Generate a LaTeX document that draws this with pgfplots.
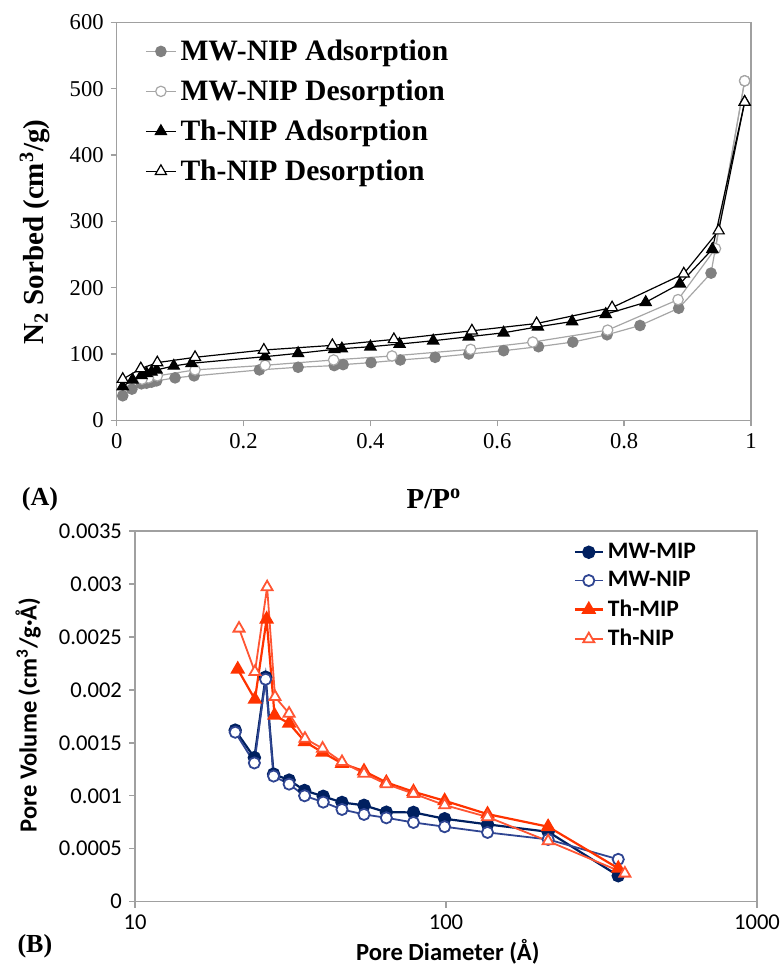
\documentclass[border=0pt]{standalone}
\usepackage{pgfplots}
\pgfplotsset{compat=1.18}
\usepackage{fontspec}
\setmainfont{Liberation Serif}
\newfontfamily\timesf{Liberation Serif}
\newfontfamily\calibri{Carlito}
\definecolor{gA}{HTML}{808080}
\definecolor{gD}{HTML}{A6A6A6}
\definecolor{axgray}{HTML}{A0A0A0}
\definecolor{navyA}{HTML}{002060}
\definecolor{navyB}{HTML}{2F4592}
\definecolor{redA}{HTML}{FF3300}
\definecolor{redB}{HTML}{FF5533}
\begin{document}
\begin{tikzpicture}
\useasboundingbox (0,0) rectangle (391pt,482pt);
% ---------------- (A) ----------------
\begin{axis}[
  at={(58.35pt,271.85pt)}, anchor=south west,
  scale only axis, width=317.15pt, height=198.9pt,
  xmin=0, xmax=1, ymin=0, ymax=600,
  xtick={0,0.2,0.4,0.6,0.8,1},
  xticklabels={{\timesf 0},{\timesf 0.2},{\timesf 0.4},{\timesf 0.6},{\timesf 0.8},{\timesf 1}},
  ytick={0,100,200,300,400,500,600},
  yticklabels={{\timesf 0},{\timesf 100},{\timesf 200},{\timesf 300},{\timesf 400},{\timesf 500},{\timesf 600}},
  /pgf/number format/assume math mode=true,
  tick align=outside, tick pos=left, major tick length=3pt,
  axis line style={axgray, line width=0.7pt},
  tick style={axgray, line width=0.7pt},
  xticklabel style={font=\timesf\fontsize{11.3}{13}\selectfont},
  yticklabel style={font=\timesf\fontsize{11.3}{13}\selectfont},
  clip=false,
  xlabel={\textbf{P/P\textsuperscript{o}}},
  xlabel style={at={(axis description cs:0.5,-0.198)}, anchor=center, font=\fontsize{14.5}{17}\selectfont},
  ylabel={\textbf{N\textsubscript{2} Sorbed (cm\textsuperscript{3}/g)}},
  ylabel style={at={(axis description cs:-0.129,0.473)}, anchor=center, rotate=0, font=\fontsize{14.5}{17}\selectfont},
  legend cell align=left,
  legend style={at={(axis description cs:0.035,0.978)}, anchor=north west, draw=none, fill=none,
    font=\bfseries\fontsize{14.8}{17}\selectfont, row sep=4.2pt},
  legend image code/.code={\draw[mark repeat=2,mark phase=2,#1] plot coordinates {(0pt,0pt)(7.5pt,0pt)(15pt,0pt)};},
]
\addplot[gD, line width=0.6pt, mark=*, mark size=2.6pt, mark options={fill=gA, draw=gA}] coordinates {
(0.0095,37)(0.024,47)(0.039,55)(0.047,56)(0.055,57.5)(0.063,59.5)(0.092,64)(0.122,67)(0.225,76)(0.286,80)(0.343,82.5)(0.357,84)(0.401,87)(0.447,91)(0.502,95)(0.555,100)(0.610,105)(0.665,111)(0.719,118)(0.773,129)(0.825,143)(0.886,169)(0.937,222)(0.990,512)};
\addlegendentry{MW-NIP Adsorption}
\addplot[gD, line width=0.6pt, mark=*, mark size=2.6pt, mark options={fill=white, draw=gD}] coordinates {
(0.990,512)(0.944,259)(0.885,182)(0.774,136)(0.656,118)(0.558,107)(0.434,97)(0.342,91)(0.234,83)(0.1235,76)(0.064,67)(0.050,64)(0.040,62)};
\addlegendentry{MW-NIP Desorption}
\addplot[black, line width=0.6pt, mark=triangle*, mark size=3.2pt, mark options={fill=black, draw=black}] coordinates {
(0.0095,51)(0.025,61)(0.039,68)(0.047,71)(0.055,73)(0.063,76)(0.090,82)(0.118,86)(0.234,96)(0.286,101)(0.343,107)(0.355,108)(0.400,111)(0.446,115)(0.499,120)(0.555,126)(0.610,132)(0.664,141)(0.718,149)(0.771,160)(0.834,178)(0.888,206)(0.939,258)(0.990,480)};
\addlegendentry{Th-NIP Adsorption}
\addplot[black, line width=0.6pt, mark=triangle*, mark size=3.2pt, mark options={fill=white, draw=black}] coordinates {
(0.990,480)(0.949,286)(0.894,221)(0.781,170)(0.662,146)(0.560,135)(0.437,122)(0.340,113)(0.232,106)(0.1235,95)(0.064,87)(0.038,78)(0.0095,62)};
\addlegendentry{Th-NIP Desorption}
\node[font=\bfseries\fontsize{13}{15}\selectfont] at (axis description cs:-0.121,-0.198) {(A)};
\end{axis}
% ---------------- (B) ----------------
\begin{axis}[
  at={(67.5pt,31.15pt)}, anchor=south west,
  scale only axis, width=311pt, height=185.35pt,
  xmode=log, xmin=10, xmax=1000, ymin=0, ymax=0.0035,
  xtick={10,100,1000}, xticklabels={{\calibri 10},{\calibri 100},{\calibri 1000}}, xminorticks=false,
  ytick={0,0.0005,0.001,0.0015,0.002,0.0025,0.003,0.0035},
  yticklabels={{\calibri 0},{\calibri 0.0005},{\calibri 0.001},{\calibri 0.0015},{\calibri 0.002},{\calibri 0.0025},{\calibri 0.003},{\calibri 0.0035}},
  scaled y ticks=false,
  /pgf/number format/assume math mode=true,
  tick align=outside, tick pos=left, major tick length=3pt,
  axis line style={axgray, line width=0.7pt},
  tick style={axgray, line width=0.7pt},
  xticklabel style={font=\calibri\fontsize{11.3}{13}\selectfont},
  yticklabel style={font=\calibri\fontsize{11.3}{13}\selectfont},
  clip=false,
  xlabel={\calibri\bfseries Pore Diameter (Å)},
  xlabel style={at={(axis description cs:0.503,-0.136)}, anchor=center, font=\fontsize{12.3}{15}\selectfont},
  ylabel={\calibri\bfseries Pore Volume (cm\textsuperscript{3}/g·Å)},
  ylabel style={at={(axis description cs:-0.172,0.504)}, anchor=center, font=\fontsize{12.3}{15}\selectfont},
  legend cell align=left,
  legend style={at={(axis description cs:0.695,0.99)}, anchor=north west, draw=none, fill=none,
    font=\calibri\bfseries\fontsize{11.8}{14}\selectfont, row sep=1pt},
  legend image code/.code={\draw[mark repeat=2,mark phase=2,#1] plot coordinates {(0pt,0pt)(7pt,0pt)(14pt,0pt)};},
]
\addplot[navyA, line width=1.1pt, mark=*, mark size=2.8pt, mark options={fill=navyA, draw=navyA}] coordinates {
(21.0,0.00162)(24.2,0.00136)(26.3,0.00212)(27.9,0.001205)(31.3,0.001148)(35.1,0.00105)(40.3,0.000995)(46.3,0.000937)(54.5,0.00091)(64.3,0.000845)(78.6,0.000843)(99,0.000783)(136,0.00073)(213,0.00066)(358,0.000245)};
\addlegendentry{MW-MIP}
\addplot[navyB, line width=0.9pt, mark=*, mark size=2.8pt, mark options={fill=white, draw=navyB}] coordinates {
(21.0,0.0016)(24.2,0.00131)(26.3,0.0021)(27.9,0.001186)(31.3,0.00111)(35.1,0.001)(40.3,0.00094)(46.3,0.000871)(54.5,0.000824)(64.3,0.000792)(78.6,0.000748)(99,0.000708)(136,0.000654)(213,0.000588)(358,0.0004)};
\addlegendentry{MW-NIP}
\addplot[redA, line width=1.1pt, mark=triangle*, mark size=3.2pt, mark options={fill=redA, draw=redA}] coordinates {
(21.4,0.002195)(24.3,0.00191)(26.5,0.002667)(28.1,0.00176)(31.3,0.001683)(35.2,0.00151)(40.1,0.00141)(46.3,0.001305)(54.5,0.001233)(64.3,0.001126)(78.6,0.001038)(99,0.000953)(136,0.000827)(213,0.000708)(358,0.000315)};
\addlegendentry{Th-MIP}
\addplot[redB, line width=0.9pt, mark=triangle*, mark size=3.2pt, mark options={fill=white, draw=redB}] coordinates {
(21.6,0.00258)(24.3,0.00217)(26.6,0.00297)(28.2,0.001934)(31.3,0.001777)(35.2,0.00154)(40.1,0.001447)(46.3,0.00132)(54.5,0.00121)(64.3,0.00111)(78.6,0.00102)(99,0.000912)(136,0.0008)(213,0.000572)(376,0.000267)};
\addlegendentry{Th-NIP}
\node[font=\bfseries\fontsize{13}{15}\selectfont] at (axis description cs:-0.161,-0.119) {(B)};
\end{axis}
\end{tikzpicture}
\end{document}
